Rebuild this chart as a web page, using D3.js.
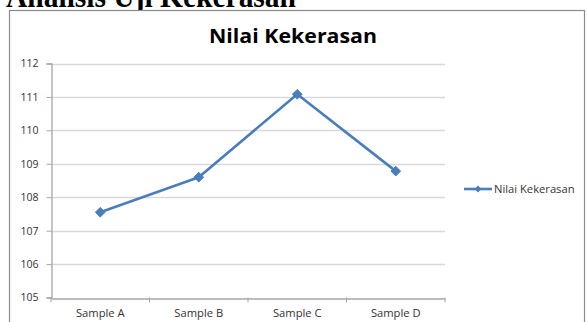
<!DOCTYPE html>
<html><head><meta charset="utf-8">
<script src="https://cdn.jsdelivr.net/npm/d3@7"></script>
<style>body{margin:0;background:#fff;overflow:hidden}svg{display:block}</style>
</head><body>
<svg id="c" width="587" height="322"></svg>
<script>
const categories = ["Sample A", "Sample B", "Sample C", "Sample D"];
const values = [107.55, 108.6, 111.08, 108.78];
const yTicks = [105, 106, 107, 108, 109, 110, 111, 112];
const seriesName = "Nilai Kekerasan";
const chartTitle = "Nilai Kekerasan";
const pageHeading = "Analisis Uji Kekerasan";

const svg = d3.select("#c");
const font = "'Open Sans', sans-serif";
const blue = "#4a7ebb";

// page heading (cut off at top, as in the reference)
svg.append("text").attr("x", 6).attr("y", 7)
  .attr("font-family", "'Liberation Serif', 'Times New Roman', serif")
  .attr("font-weight", "bold").attr("font-size", 31).attr("fill", "#000")
  .attr("textLength", 290).attr("lengthAdjust", "spacingAndGlyphs")
  .text(pageHeading);

// chart frame
svg.append("rect").attr("x", 9.5).attr("y", 10.5).attr("width", 575).attr("height", 330)
  .attr("fill", "#fff").attr("stroke", "#8c8c8c").attr("stroke-width", 1.2);

const L = 51, R = 445, T = 63.5, B = 297.5;
const x = d3.scaleBand().domain(categories).range([L, R]);
const y = d3.scaleLinear().domain([105, 112]).range([B, T]);

// title
svg.append("text").attr("x", 293).attr("y", 43).attr("text-anchor", "middle")
  .attr("font-family", font).attr("font-weight", "bold").attr("font-size", 19.5).attr("fill", "#000")
  .attr("textLength", 168).attr("lengthAdjust", "spacingAndGlyphs")
  .text(chartTitle);

// gridlines
svg.append("g").selectAll("line").data(yTicks.filter(d => d !== 105)).join("line")
  .attr("x1", L).attr("x2", R).attr("y1", d => Math.round(y(d)) + 0.5).attr("y2", d => Math.round(y(d)) + 0.5)
  .attr("stroke", "#d9d9d9").attr("stroke-width", 1.3);

// y axis
const yAxis = svg.append("g").attr("transform", `translate(${L + 0.5},0)`)
  .call(d3.axisLeft(y).tickValues(yTicks).tickSize(5).tickPadding(8).tickFormat(d3.format("d")));
yAxis.select(".domain").attr("stroke", "#a6a6a6").attr("stroke-width", 1.3);
yAxis.selectAll(".tick line").attr("stroke", "#a6a6a6");
yAxis.selectAll("text").attr("font-family", font).attr("font-size", 10.5).attr("fill", "#333");

// x axis
const xAxis = svg.append("g").attr("transform", `translate(0,${Math.round(B) + 0.5})`)
  .call(d3.axisBottom(x).tickSize(0).tickPadding(11));
xAxis.select(".domain").attr("stroke", "#a6a6a6").attr("stroke-width", 1.3);
xAxis.selectAll("text").attr("font-family", font).attr("font-size", 11.2).attr("fill", "#333");
// category boundary ticks
const bounds = categories.map(c => x(c)).concat([R]);
svg.append("g").selectAll("line").data(bounds).join("line")
  .attr("x1", d => d).attr("x2", d => d).attr("y1", B).attr("y2", B + 5)
  .attr("stroke", "#a6a6a6");

// line
const cx = c => x(c) + x.bandwidth() / 2;
const line = d3.line().x((d, i) => cx(categories[i])).y(d => y(d));
svg.append("path").datum(values).attr("d", line).attr("fill", "none")
  .attr("stroke", blue).attr("stroke-width", 2.6).attr("stroke-linejoin", "round");

const diamond = d3.symbol().type(d3.symbolDiamond2).size(60);
svg.append("g").selectAll("path").data(values).join("path")
  .attr("transform", (d, i) => `translate(${cx(categories[i])},${y(d)})`)
  .attr("d", diamond).attr("fill", blue).attr("stroke", blue).attr("stroke-width", 1);

// legend
const lg = svg.append("g").attr("transform", "translate(464,189)");
lg.append("line").attr("x1", 0).attr("x2", 28).attr("y1", 0).attr("y2", 0)
  .attr("stroke", blue).attr("stroke-width", 2.6);
lg.append("path").attr("transform", "translate(14,0)").attr("d", d3.symbol().type(d3.symbolDiamond2).size(30))
  .attr("fill", blue);
lg.append("text").attr("x", 30).attr("y", 3.8).attr("font-family", font).attr("font-size", 11.2)
  .attr("fill", "#333").text(seriesName);
</script>
</body></html>
